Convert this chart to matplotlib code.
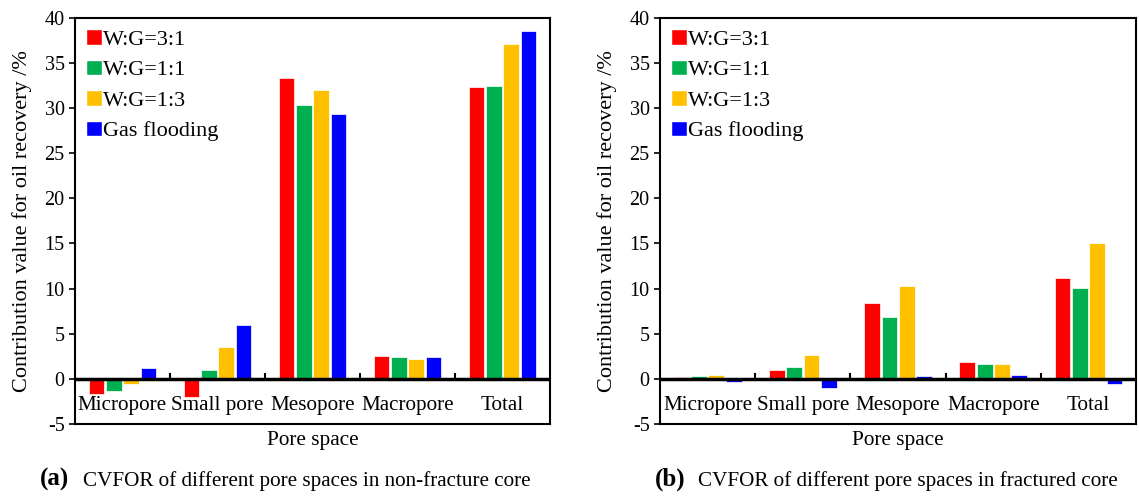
import numpy as np
import matplotlib.pyplot as plt
from matplotlib.patches import Patch

plt.rcParams['font.family'] = ['Liberation Serif', 'DejaVu Serif']
plt.rcParams['font.size'] = 15
plt.rcParams['axes.unicode_minus'] = False

# ---- Data ---- #
categories = ["Micropore", "Small pore", "Mesopore", "Macropore", "Total"]
series = ["W:G=3:1", "W:G=1:1", "W:G=1:3", "Gas flooding"]
colors = ["#FF0000", "#00B050", "#FFC000", "#0000FF"]

# (a) non-fracture core
nonfrac_31 = [-1.7, -2.0, 33.3, 2.5, 32.3]
nonfrac_11 = [-1.3, 1.0, 30.3, 2.4, 32.4]
nonfrac_13 = [-0.6, 3.5, 32.0, 2.25, 37.1]
nonfrac_gas = [1.2, 6.0, 29.3, 2.45, 38.6]

# (b) fractured core
frac_31 = [0.15, 0.95, 8.4, 1.85, 11.2]
frac_11 = [0.35, 1.35, 6.9, 1.6, 10.1]
frac_13 = [0.4, 2.6, 10.3, 1.6, 15.1]
frac_gas = [-0.35, -1.05, 0.3, 0.4, -0.6]

panels = [
    ([nonfrac_31, nonfrac_11, nonfrac_13, nonfrac_gas],
     "(a)", "CVFOR of different pore spaces in non-fracture core"),
    ([frac_31, frac_11, frac_13, frac_gas],
     "(b)", "CVFOR of different pore spaces in fractured core"),
]

fig = plt.figure(figsize=(11.39, 4.97), dpi=100)
axes_pos = [[0.0658, 0.147, 0.417, 0.817], [0.5795, 0.147, 0.418, 0.817]]
caption_x = [0.035, 0.575]

x = np.arange(len(categories))
step = 0.182
width = 0.165

for pos, cap_x, (data, tag, caption) in zip(axes_pos, caption_x, panels):
    ax = fig.add_axes(pos)
    for i, (vals, c) in enumerate(zip(data, colors)):
        ax.bar(x + (i - 1.5) * step, vals, width, color=c,
               edgecolor="white", linewidth=0.5, zorder=2)

    ax.set_xlim(-0.5, len(categories) - 0.5)
    ax.set_ylim(-5, 40)
    ax.set_yticks(np.arange(-5, 41, 5))
    ax.tick_params(axis="y", direction="out", length=4, width=1.2, labelsize=14.5)
    ax.set_xticks([])
    for s in ax.spines.values():
        s.set_linewidth(1.5)

    # zero line with separator ticks
    ax.axhline(0, color="black", lw=2.5, zorder=3)
    ax.vlines(x[:-1] + 0.5, 0, 0.7, color="black", lw=1.5, zorder=3)
    for xi, lab in zip(x, categories):
        ax.text(xi, -1.85, lab, ha="center", va="top", fontsize=15.2)

    ax.set_xlabel("Pore space", fontsize=15.3, labelpad=5)
    ax.set_ylabel("Contribution value for oil recovery /%", fontsize=16, labelpad=9)

    handles = [Patch(facecolor=c, edgecolor="white") for c in colors]
    ax.legend(handles, series, loc="upper left", frameon=False, fontsize=16,
              handlelength=0.7, handleheight=0.7, handletextpad=0.05,
              labelspacing=0.45, borderaxespad=0.1, bbox_to_anchor=(0.0, 1.0))

    fig.text(cap_x, 0.012, tag, fontsize=18, fontweight="bold",
             ha="left", va="bottom")
    fig.text(cap_x + 0.038, 0.012, caption, fontsize=15.2, ha="left", va="bottom")

fig.savefig("out.png", dpi=100)
